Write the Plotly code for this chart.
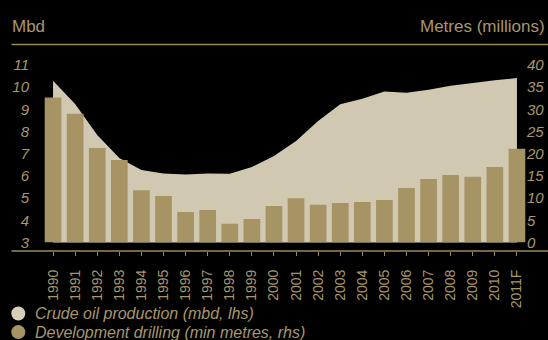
import plotly.graph_objects as go

# ---- data ----
years = ['1990', '1991', '1992', '1993', '1994', '1995', '1996', '1997', '1998', '1999',
         '2000', '2001', '2002', '2003', '2004', '2005', '2006', '2007', '2008', '2009',
         '2010', '2011F']
oil_mbd = [10.29, 9.24, 7.84, 6.81, 6.27, 6.11, 6.06, 6.11, 6.10, 6.40,
           6.90, 7.57, 8.48, 9.23, 9.48, 9.80, 9.75, 9.89, 10.07, 10.20,
           10.31, 10.41]
drilling_mm = [32.7, 29.0, 21.3, 18.6, 11.8, 10.5, 6.9, 7.3, 4.2, 5.3,
               8.2, 10.0, 8.5, 8.9, 9.1, 9.6, 12.3, 14.3, 15.2, 14.8,
               17.0, 21.1]
left_ticks = [3, 4, 5, 6, 7, 8, 9, 10, 11]
right_ticks = [0, 5, 10, 15, 20, 25, 30, 35, 40]
series_names = ['Crude oil production (mbd, lhs)', 'Development drilling (min metres, rhs)']
left_title = 'Mbd'
right_title = 'Metres (millions)'

# ---- style ----
W, H = 548, 340
ML, MR, MT, MB = 42, 20, 65, 89
AREA_C = '#d0c8b0'
BAR_C = '#a69464'
TXT_C = '#a8976b'
LINE_C = '#9a8858'
FONT = 'Liberation Sans'
PW, PH = W - ML - MR, H - MT - MB


def px(x):
    return (x - ML) / PW


def py(y):
    return (H - MB - y) / PH


fig = go.Figure()
fig.add_trace(go.Scatter(x=years, y=oil_mbd, mode='lines', fill='tozeroy',
                         fillcolor=AREA_C, line=dict(width=0, color=AREA_C),
                         name=series_names[0], yaxis='y', showlegend=False,
                         hoverinfo='skip'))
fig.add_trace(go.Bar(x=years, y=drilling_mm, marker=dict(color=BAR_C, line=dict(width=0)),
                     name=series_names[1], yaxis='y2', showlegend=False))

ybottom = py(242.5)
fig.update_layout(
    width=W, height=H,
    margin=dict(l=ML, r=MR, t=MT, b=MB, autoexpand=False),
    paper_bgcolor='black', plot_bgcolor='black',
    bargap=0.245,
    showlegend=False,
    xaxis=dict(type='category', anchor='free', position=0, showgrid=False, zeroline=False,
               showline=False, ticks='outside', ticklen=4, tickwidth=1, tickcolor=LINE_C,
               tickangle=-90, ticklabelstandoff=8, automargin=False,
               tickfont=dict(family=FONT, size=14, color=TXT_C)),
    yaxis=dict(domain=[ybottom, 1], range=[3, 11], tickvals=left_ticks, automargin=False,
               showgrid=False, zeroline=False, showline=False, ticklabelstandoff=12,
               tickfont=dict(family=FONT, size=15, color=TXT_C, style='italic')),
    yaxis2=dict(domain=[ybottom, 1], range=[0, 40], tickvals=right_ticks, overlaying='y',
                side='right', showgrid=False, zeroline=False, showline=False,
                ticklabelstandoff=-2, automargin=False,
                tickfont=dict(family=FONT, size=15, color=TXT_C, style='italic')),
)

# decorative rules
for yy in (44.5, 251):
    fig.add_shape(type='line', xref='paper', yref='paper', x0=px(11.5), x1=px(548),
                  y0=py(yy), y1=py(yy), line=dict(color=LINE_C, width=1.5))

# axis titles
fig.add_annotation(text=left_title, xref='paper', yref='paper', x=px(10), y=py(27),
                   xanchor='left', yanchor='middle', showarrow=False,
                   font=dict(family=FONT, size=17, color=TXT_C))
fig.add_annotation(text=right_title, xref='paper', yref='paper', x=px(547), y=py(27),
                   xanchor='right', yanchor='middle', showarrow=False,
                   font=dict(family=FONT, size=17, color=TXT_C))

# legend
legend_cols = ['#d6cfba', BAR_C]
for i, (name, col) in enumerate(zip(series_names, legend_cols)):
    cy = 313.5 + i * 18.6
    fig.add_shape(type='circle', xref='paper', yref='paper',
                  x0=px(11.3), x1=px(25.3), y0=py(cy + 7), y1=py(cy - 7),
                  fillcolor=col, line=dict(width=0))
    fig.add_annotation(text=name, xref='paper', yref='paper', x=px(33), y=py(cy),
                       xanchor='left', yanchor='middle', showarrow=False,
                       font=dict(family=FONT, size=16, color=TXT_C, style='italic'))

fig.write_html('out.html')
